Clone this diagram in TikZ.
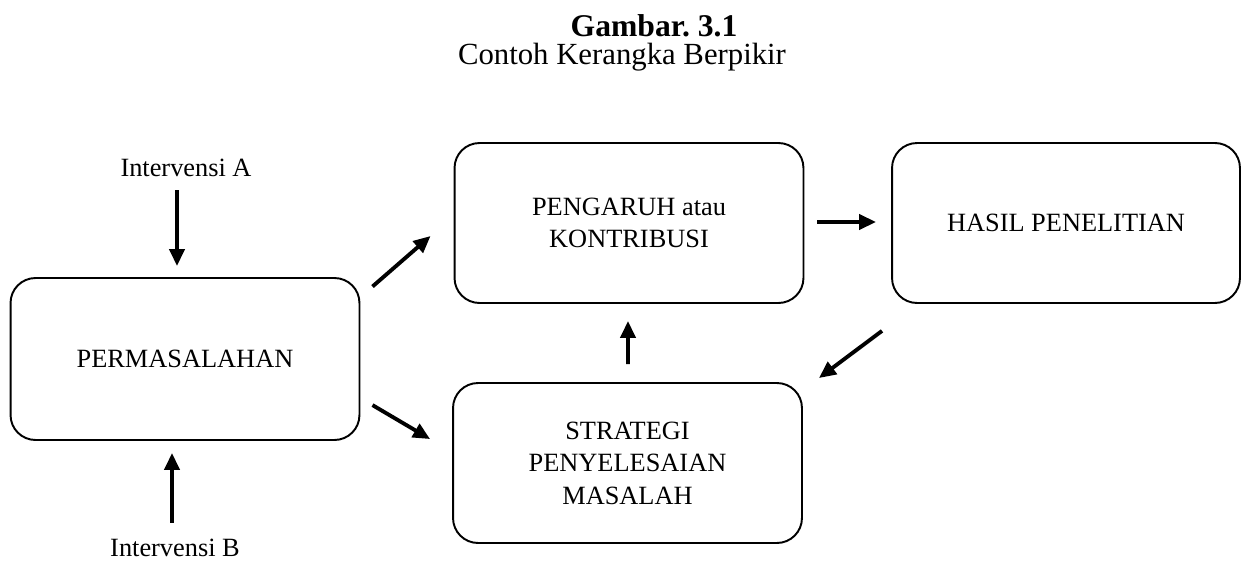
\documentclass[tikz,border=0pt]{standalone}
\usepackage{fontspec}
\setmainfont{Liberation Serif}
\usepackage{tikz}
\usetikzlibrary{arrows.meta,shapes}

\begin{document}
\begin{tikzpicture}[x=0.02cm,y=-0.02cm]

\tikzstyle{flowbox}=[draw,line width=1.1pt,rounded corners=0.5cm,align=center,
  minimum width=6.98cm,minimum height=3.2cm,font=\fontsize{15}{18.5}\selectfont]
\tikzstyle{flowtext}=[font=\fontsize{15}{18}\selectfont]
\tikzstyle{flowarrow}=[line width=2.2pt,-{Triangle[length=0.34cm,width=0.3cm]}]

\useasboundingbox (0,0) rectangle (1241,561);

%% Title
\node (title)[inner sep=1pt] at (654,26) {\fontsize{18}{22}\selectfont\textbf{Gambar.\ 3.1}};
\node (subtitle)[inner sep=1pt] at (622,57) {\fontsize{17.5}{21}\selectfont Contoh Kerangka Berpikir};

%% Boxes
\node (perm)[flowbox,minimum height=3.24cm] at (185,359) {PERMASALAHAN};
\node (pengaruh)[flowbox] at (629,223) {PENGARUH atau\\KONTRIBUSI};
\node (hasil)[flowbox,minimum width=6.96cm] at (1066,223) {HASIL PENELITIAN};
\node (strategi)[flowbox] at (627.5,463) {STRATEGI\\PENYELESAIAN\\MASALAH};

%% Interventions
\node (intA)[flowtext] at (186,168) {Intervensi A};
\node (intB)[flowtext] at (175,548) {Intervensi B};

%% Arrows
\draw [flowarrow,shorten <=0.14cm,shorten >=0.22cm] ([xshift=-0.18cm]intA.south) -- ([xshift=-0.16cm]perm.north);
\draw [flowarrow,shorten <=0.2cm,shorten >=0.24cm] ([xshift=-0.06cm]intB.north) -- ([xshift=-0.26cm]perm.south);
\draw [flowarrow,shorten <=0.32cm,shorten >=0.61cm] ([yshift=1.24cm]perm.east) -- ([yshift=0.14cm]pengaruh.west);
\draw [flowarrow,shorten <=0.28cm,shorten >=0.51cm] ([yshift=-0.78cm]perm.east) -- ([yshift=0.22cm]strategi.west);
\draw [flowarrow,shorten <=0.26cm,shorten >=0.3cm] ([yshift=0.02cm]pengaruh.east) -- ([yshift=0.02cm]hasil.west);
\draw [flowarrow,shorten <=0.36cm,shorten >=0.34cm] ([xshift=0.01cm]strategi.north) -- ([xshift=-0.02cm]pengaruh.south);
\draw [flowarrow,shorten <=0.9cm,shorten >=0.4cm] ([xshift=-2.96cm]hasil.south) -- ([yshift=1.46cm]strategi.east);

\end{tikzpicture}
\end{document}
